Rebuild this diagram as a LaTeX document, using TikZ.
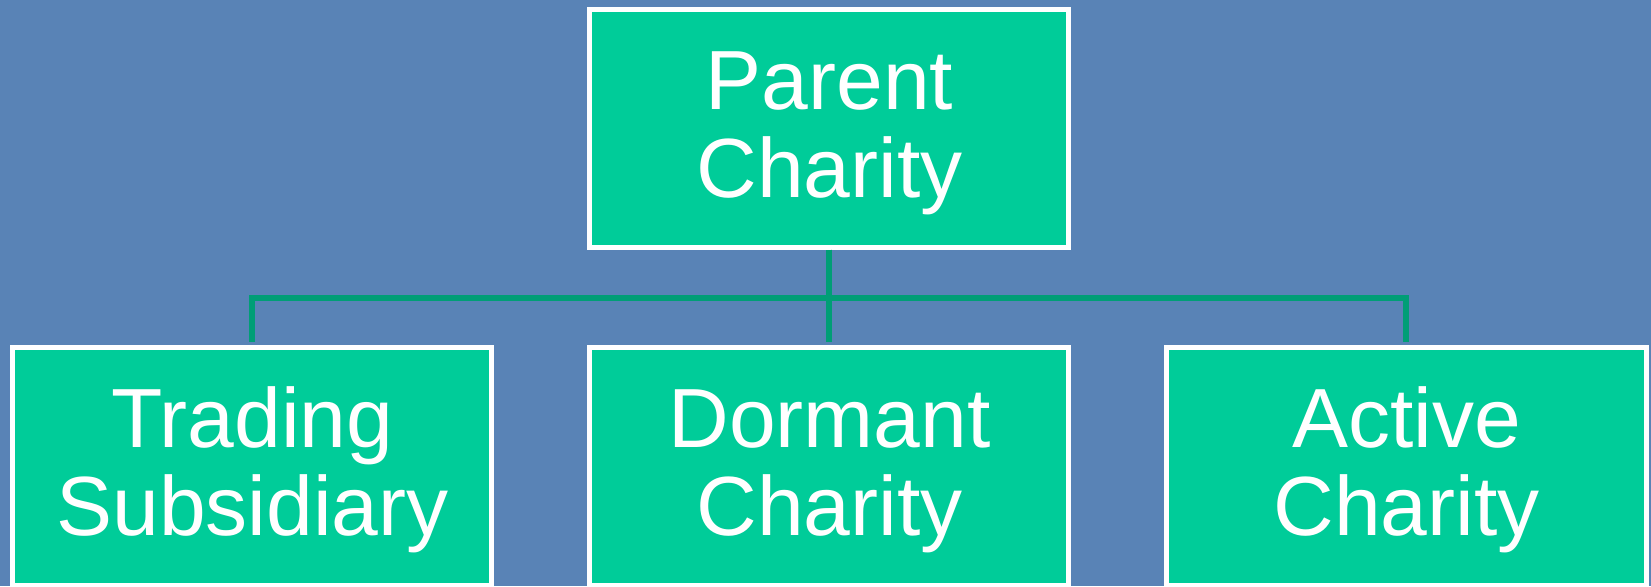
\documentclass[tikz,border=0pt]{standalone}
\usepackage{fontspec}
\setmainfont{Liberation Sans}
\usepackage{xcolor}
\definecolor{fondbleu}{RGB}{89,131,182}
\definecolor{vertboite}{RGB}{0,204,153}
\definecolor{vertlien}{RGB}{0,158,118}

\begin{document}
\begin{tikzpicture}[every node/.style={draw=white,line width=2.5pt,fill=vertboite,text=white,minimum width=239.5pt,minimum height=119pt,align=center,text height=78.6pt,text depth=8.8pt,font=\fontsize{42}{44}\selectfont},%
        edge from parent/.style={draw=vertlien,line width=3pt,shorten >=1.25pt}, edge from parent path={(\tikzparentnode.south) -- ++(0,-24pt) -| (\tikzchildnode.north)},%
        level distance=169pt, level 1/.style={sibling distance=288.5pt}]
        \path[use as bounding box,fill=fondbleu] (-414.75pt,64pt) rectangle ++(825.5pt,-293pt);
        \node (parent) {Parent\\Charity}
        child { node (trading) {Trading\\Subsidiary}}
        child { node (dormant) {Dormant\\Charity}}
        child { node (active) {Active\\Charity}};
    \end{tikzpicture}
\end{document}
